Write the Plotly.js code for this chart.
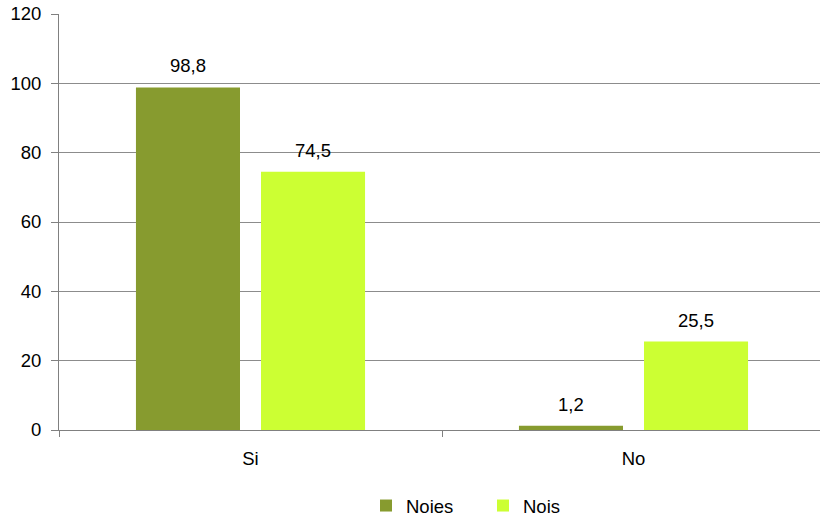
<!DOCTYPE html>
<html><head><meta charset="utf-8">
<script src="https://cdn.plot.ly/plotly-3.0.1.min.js"></script>
<style>html,body{margin:0;padding:0;overflow:hidden;background:#fff}</style>
</head><body>
<div id="chart" style="width:826px;height:519px"></div>
<script>
const categories = ["Si", "No"];
const noiesValues = [98.8, 1.2];
const noisValues = [74.5, 25.5];
const seriesNames = ["Noies", "Nois"];
const seriesColors = ["#879B2F", "#CCFF33"];
const yTicks = [0, 20, 40, 60, 80, 100, 120];

const font = {family: "Liberation Sans, Arial, sans-serif", size: 18.5, color: "#000"};
const bargap = 0.347;
const seriesValues = [noiesValues, noisValues];
const traces = seriesValues.map((vals, s) => ({
  type: "bar", name: seriesNames[s], x: categories, y: vals,
  marker: {color: seriesColors[s]}, hoverinfo: "none"
}));
const offset = (1 - bargap) / 4;
const annotations = [];
seriesValues.forEach((vals, s) => {
  vals.forEach((v, i) => {
    annotations.push({
      xref: "x", yref: "y", x: i + (s === 0 ? -offset : offset), y: v,
      text: v.toFixed(1).replace(".", ","), showarrow: false,
      xanchor: "center", yanchor: "bottom", yshift: 9, font: font
    });
  });
});
const layout = {
  width: 826, height: 519,
  margin: {l: 59, r: 1, t: 14, b: 89, autoexpand: false},
  paper_bgcolor: "#fff", plot_bgcolor: "#fff",
  separators: ",.",
  font: font,
  barmode: "group", bargap: bargap, bargroupgap: 0.168,
  showlegend: true,
  legend: {orientation: "h", xref: "container", yref: "container",
           x: 366 / 826, xanchor: "left", y: 1 - 506 / 519, yanchor: "middle",
           font: font, traceorder: "normal", itemwidth: 30,
           entrywidth: 72, entrywidthmode: "pixels"},
  annotations: annotations,
  xaxis: {type: "category", tickson: "boundaries", ticks: "outside", ticklen: 6,
          tickcolor: "#808080", showline: true, linecolor: "#808080", linewidth: 1,
          showgrid: false, tickfont: font, zeroline: false, ticklabelstandoff: 12,
          automargin: false},
  yaxis: {range: [0, 120], tickvals: yTicks, ticks: "outside", ticklen: 7,
          tickcolor: "#808080", showline: true, linecolor: "#808080", linewidth: 1,
          showgrid: true, gridcolor: "#8c8c8c", gridwidth: 1, zeroline: false,
          tickfont: font, fixedrange: true, ticklabelstandoff: 6, automargin: false}
};
Plotly.newPlot("chart", traces, layout, {displayModeBar: false, staticPlot: true});
</script>
</body></html>
